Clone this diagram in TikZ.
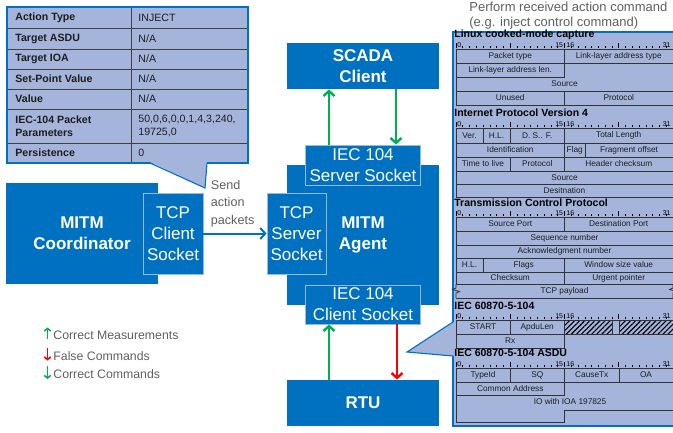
\documentclass[tikz,border=0pt]{standalone}
\usepackage{fontspec}
\setmainfont{Liberation Sans}
\usetikzlibrary{arrows.meta,patterns.meta,positioning}

\definecolor{mblue}{RGB}{0,112,192}
\definecolor{lblue}{RGB}{164,180,218}
\definecolor{eblue}{RGB}{150,185,228}
\definecolor{cgreen}{RGB}{0,176,80}
\definecolor{cred}{RGB}{255,0,0}
\definecolor{tgray}{RGB}{95,95,95}
\definecolor{tdark}{RGB}{30,30,30}

\tikzset{
  unit/.style={fill=mblue, text=white, font=\fontsize{17}{21}\selectfont\bfseries, align=center, inner sep=0pt},
  sock/.style={draw=eblue, line width=0.8pt, fill=mblue, text=white, font=\fontsize{17}{21}\selectfont, align=center, inner sep=0pt},
  garrow/.style={cgreen, line width=2.4pt, -{Straight Barb[length=5pt,width=11pt]}},
  rarrow/.style={cred, line width=2.4pt, -{Straight Barb[length=5pt,width=11pt]}},
  barrow/.style={mblue, line width=2pt, -{Straight Barb[length=5pt,width=11pt]}},
  lgarrow/.style={line width=1.6pt, -{Straight Barb[length=2.5pt,width=6.5pt]}},
  note/.style={text=tgray, font=\fontsize{12.6}{17.5}\selectfont, align=left, inner sep=0pt},
  pborder/.style={draw=mblue, line width=1.1pt},
  tline/.style={draw=black!75, line width=1pt},
  tkey/.style={anchor=west, inner sep=0pt, text=tdark, font=\fontsize{10.6}{13.3}\selectfont\bfseries, align=left},
  tval/.style={anchor=west, inner sep=0pt, text=tdark, font=\fontsize{10.6}{13.3}\selectfont, align=left},
  fld/.style={draw=black!80, line width=0.8pt},
  ftxt/.style={inner sep=0pt, text=tdark, font=\fontsize{8.3}{9}\selectfont},
  phead/.style={anchor=west, inner sep=0pt, text=black, font=\fontsize{10.5}{12}\selectfont\bfseries},
  rtick/.style={draw=black, line width=0.6pt},
  rlab/.style={inner sep=0pt, text=black, font=\fontsize{7}{8}\selectfont}
}

\newcommand\pktfield[5]{%
  \draw[fld] (#1,#2) rectangle (#3,#4);
  \node[ftxt] at ({(#1+#3)/2},{(#2+#4)/2}) {#5};
}
\newcommand\pktruler[1]{%
  \foreach \b in {0,...,32} \draw[rtick] ({456+\b*6.78},#1) -- ++(0,-2);
  \foreach \b in {0,8,16,24,32} \draw[rtick] ({456+\b*6.78},#1) -- ++(0,-5.5);
  \node[rlab,anchor=base west] at (457,#1-1) {0};
  \node[rlab,anchor=base east] at (563.5,#1-1) {15};
  \node[rlab,anchor=base west] at (566,#1-1) {16};
  \node[rlab,anchor=base east] at (671,#1-1) {31};
}

\begin{document}
\begin{tikzpicture}[x=1pt,y=-1pt,thick]
\useasboundingbox (0,0) rectangle (673,432);
\clip (0,0) rectangle (673,432);

% action table
\fill[lblue] (7,7) rectangle (248,163);
\foreach \y in {28,49,69,89,109,143} \draw[tline] (7,\y) -- (248,\y);
\draw[tline] (131,7) -- (131,163);
\draw[pborder] (7,7) rectangle (248,163);
\fill[lblue] (150,162) -- (205,188) -- (207,162) -- cycle;
\draw[pborder] (150,163) -- (205,188) -- (207,163);

\node[tkey] (kact) at (15,17.5) {Action Type};
\node[tkey] (kasdu) at (15,38.5) {Target ASDU};
\node[tkey] (kioa) at (15,59) {Target IOA};
\node[tkey] (kspv) at (15,79) {Set-Point Value};
\node[tkey] (kval) at (15,99) {Value};
\node[tkey] (kpar) at (15,126) {IEC-104 Packet\\Parameters};
\node[tkey] (kper) at (15,153) {Persistence};
\node[tval] (vact) at (138,17.5) {INJECT};
\node[tval] (vasdu) at (138,38.5) {N/A};
\node[tval] (vioa) at (138,59) {N/A};
\node[tval] (vspv) at (138,79) {N/A};
\node[tval] (vval) at (138,99) {N/A};
\node[tval] (vpar) at (138,126) {50,0,6,0,0,1,4,3,240,\\19725,0};
\node[tval] (vper) at (138,153) {0};

% units and sockets
\node[unit, minimum width=152, minimum height=101] (coord) at (82,233.5) {MITM\\Coordinator};
\node[sock, minimum width=60, minimum height=81] (tcpc) at (173,233.5) {TCP\\Client\\Socket};
\node[unit, minimum width=152, minimum height=46] (scada) at (363,66) {SCADA\\Client};
\node[unit, minimum width=152, minimum height=140] (agent) at (363,235) {MITM\\Agent};
\node[sock, minimum width=59, minimum height=81] (tcps) at (296.5,233.5) {TCP\\Server\\Socket};
\node[sock, minimum width=115, minimum height=40] (srv) at (363,165) {IEC 104\\Server Socket};
\node[sock, minimum width=115, minimum height=39] (cli) at (363,304.5) {IEC 104\\Client Socket};
\node[unit, minimum width=152, minimum height=46] (rtu) at (363,403) {RTU};

\draw[barrow] (tcpc.east) -- (tcps.west);
\draw[garrow] ([xshift=-34]srv.north) -- ([xshift=-34]scada.south);
\draw[garrow] ([xshift=33]scada.south) -- ([xshift=33]srv.north);
\draw[garrow] ([xshift=-34]rtu.north) -- ([xshift=-34]cli.south);
\draw[rarrow] ([xshift=34]cli.south) -- ([xshift=34]rtu.north);

\node[note, anchor=base west] (send) at (210.5,224) {Send\\action\\packets};
\node[note, anchor=north west, font=\fontsize{13}{15}\selectfont] (perf) at (469,1.5) {Perform received action command\\(e.g. inject control command)};

% legend
\node[note, anchor=base west, font=\fontsize{12.3}{14}\selectfont] (lg1) at (53,339) {Correct Measurements};
\node[note, anchor=base west, font=\fontsize{12.3}{14}\selectfont] (lg2) at (53,360) {False Commands};
\node[note, anchor=base west, font=\fontsize{12.3}{14}\selectfont] (lg3) at (53,378) {Correct Commands};
\draw[lgarrow, cgreen] ([xshift=-5.5]lg1.base west) -- ([xshift=-5.5,yshift=11.5]lg1.base west);
\draw[lgarrow, cred] ([xshift=-5.5,yshift=12]lg2.base west) -- ([xshift=-5.5,yshift=-0.5]lg2.base west);
\draw[lgarrow, cgreen] ([xshift=-5.5,yshift=12]lg3.base west) -- ([xshift=-5.5,yshift=-1]lg3.base west);

% packet panel
\fill[lblue] (453,32) rectangle (680,426);
\draw[pborder] (453,32) rectangle (680,426);
\fill[lblue] (453,322) -- (407,352) -- (453,356) -- (455,356) -- (455,322) -- cycle;
\draw[pborder] (453,322) -- (407,352) -- (453,356);

\node[phead] (hsll) at (454,35) {Linux cooked-mode capture};
\pktruler{48}
\pktfield{456}{49}{564.5}{63}{Packet type}
\pktfield{564.5}{49}{673}{63}{Link-layer address type}
\pktfield{456}{63}{564.5}{77}{Link-layer address len.}
\draw[fld] (564.5,63) -- (673,63) -- (673,91) -- (456,91) -- (456,77) -- (564.5,77) -- cycle;
\node[ftxt] (src1) at (564.5,84) {Source};
\pktfield{456}{91}{564.5}{105}{Unused}
\pktfield{564.5}{91}{673}{105}{Protocol}

\node[phead] (hip) at (454,113) {Internet Protocol Version 4};
\pktruler{127}
\pktfield{456}{128}{483}{143}{Ver.}
\pktfield{483}{128}{510}{143}{H.L.}
\pktfield{510}{128}{564.5}{143}{D. S.. F.}
\pktfield{564.5}{128}{673}{143}{Total Length}
\pktfield{456}{143}{564.5}{157}{Identification}
\pktfield{564.5}{143}{585}{157}{Flag}
\pktfield{585}{143}{673}{157}{Fragment offset}
\pktfield{456}{157}{510}{171}{Time to live}
\pktfield{510}{157}{564.5}{171}{Protocol}
\pktfield{564.5}{157}{673}{171}{Header checksum}
\pktfield{456}{171}{673}{184}{Source}
\pktfield{456}{184}{673}{197}{Desitnation}

\node[phead] (htcp) at (454,203) {Transmission Control Protocol};
\pktruler{216}
\pktfield{456}{217}{564.5}{231}{Source Port}
\pktfield{564.5}{217}{673}{231}{Destination Port}
\pktfield{456}{231}{673}{245}{Sequence number}
\pktfield{456}{245}{673}{258}{Acknowledgment number}
\pktfield{456}{258}{483}{272}{H.L.}
\pktfield{483}{258}{564.5}{272}{Flags}
\pktfield{564.5}{258}{673}{272}{Window size value}
\pktfield{456}{272}{564.5}{284}{Checksum}
\pktfield{564.5}{272}{673}{284}{Urgent pointer}
\draw[fld] (456,284) -- (673,284) (456,298) -- (673,298);
\draw[fld] (456,284) -- (456,288) -- (452.5,289.5) -- (459.5,291.5) -- (456,293) -- (456,298);
\draw[fld] (673,284) -- (673,288) -- (669.5,289.5) -- (676.5,291.5) -- (673,293) -- (673,298);
\node[ftxt] (pay) at (564.5,291) {TCP payload};

\node[phead] (h104) at (454,306) {IEC 60870-5-104};
\pktruler{319}
\pktfield{456}{320}{510}{334}{START}
\pktfield{510}{320}{564.5}{334}{ApduLen}
\fill[pattern={Lines[angle=45,distance=3.6pt,line width=1.1pt]}] (564.5,320) rectangle (612,334);
\fill[pattern={Lines[angle=45,distance=3.6pt,line width=1.1pt]}] (619,320) rectangle (673,334);
\draw[fld] (564.5,320) rectangle (612,334) (612,320) rectangle (619,334) (619,320) rectangle (673,334);
\pktfield{456}{334}{564.5}{348}{Rx}

\node[phead] (hasdu) at (454,353) {IEC 60870-5-104 ASDU};
\pktruler{367}
\pktfield{456}{368}{510}{382}{TypeId}
\pktfield{510}{368}{564.5}{382}{SQ}
\pktfield{564.5}{368}{619}{382}{CauseTx}
\pktfield{619}{368}{673}{382}{OA}
\pktfield{456}{382}{564.5}{395}{Common Address}
\draw[fld] (564.5,382) -- (673,382) -- (673,410) -- (564.5,410) -- (564.5,422) -- (456,422) -- (456,395) -- (564.5,395) -- cycle;
\node[ftxt] (iow) at (570,402) {IO with IOA 197825};
\end{tikzpicture}
\end{document}
